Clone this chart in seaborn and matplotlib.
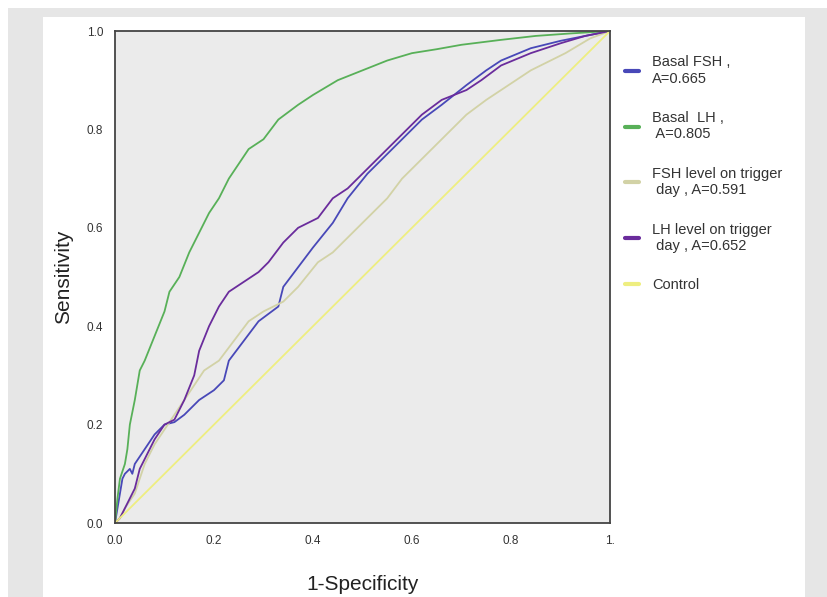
import numpy as np
import pandas as pd
import matplotlib
matplotlib.use("Agg")
import matplotlib.pyplot as plt
from matplotlib.patches import Rectangle
import seaborn as sns

# ---- data ----
series_names = ["Basal FSH ,\nA=0.665", "Basal  LH ,\n A=0.805",
                "FSH level on trigger\n day , A=0.591", "LH level on trigger\n day , A=0.652", "Control"]

fsh_x = [0, 0.005, 0.01, 0.015, 0.02, 0.03, 0.035, 0.04, 0.06, 0.08, 0.10, 0.12, 0.14, 0.17, 0.20, 0.22,
         0.23, 0.26, 0.29, 0.33, 0.34, 0.37, 0.40, 0.44, 0.47, 0.51, 0.55, 0.58, 0.62, 0.66, 0.71, 0.75,
         0.78, 0.84, 0.90, 0.95, 1.0]
fsh_y = [0, 0.03, 0.06, 0.09, 0.10, 0.11, 0.10, 0.12, 0.15, 0.18, 0.20, 0.205, 0.22, 0.25, 0.27, 0.29,
         0.33, 0.37, 0.41, 0.44, 0.48, 0.52, 0.56, 0.61, 0.66, 0.71, 0.75, 0.78, 0.82, 0.85, 0.89, 0.92,
         0.94, 0.965, 0.98, 0.99, 1.0]

lh_x = [0, 0.005, 0.01, 0.02, 0.025, 0.03, 0.04, 0.05, 0.06, 0.08, 0.10, 0.11, 0.13, 0.15, 0.17, 0.19,
        0.21, 0.23, 0.25, 0.27, 0.30, 0.33, 0.37, 0.40, 0.45, 0.50, 0.55, 0.60, 0.65, 0.70, 0.78, 0.85,
        0.92, 1.0]
lh_y = [0, 0.05, 0.09, 0.12, 0.15, 0.20, 0.25, 0.31, 0.33, 0.38, 0.43, 0.47, 0.50, 0.55, 0.59, 0.63,
        0.66, 0.70, 0.73, 0.76, 0.78, 0.82, 0.85, 0.87, 0.90, 0.92, 0.94, 0.955, 0.963, 0.972, 0.982, 0.99,
        0.995, 1.0]

fsht_x = [0, 0.01, 0.02, 0.04, 0.06, 0.08, 0.10, 0.12, 0.14, 0.16, 0.18, 0.21, 0.24, 0.27, 0.30, 0.34,
          0.37, 0.41, 0.44, 0.48, 0.51, 0.55, 0.58, 0.62, 0.66, 0.71, 0.75, 0.78, 0.84, 0.88, 0.91, 0.96, 1.0]
fsht_y = [0, 0.01, 0.03, 0.06, 0.12, 0.16, 0.19, 0.22, 0.25, 0.28, 0.31, 0.33, 0.37, 0.41, 0.43, 0.45,
          0.48, 0.53, 0.55, 0.59, 0.62, 0.66, 0.70, 0.74, 0.78, 0.83, 0.86, 0.88, 0.92, 0.94, 0.955, 0.985, 1.0]

lht_x = [0, 0.01, 0.02, 0.03, 0.04, 0.05, 0.06, 0.08, 0.10, 0.12, 0.14, 0.16, 0.17, 0.19, 0.21, 0.23,
         0.26, 0.29, 0.31, 0.34, 0.37, 0.41, 0.44, 0.47, 0.51, 0.55, 0.58, 0.62, 0.66, 0.71, 0.74, 0.78,
         0.84, 0.90, 0.95, 1.0]
lht_y = [0, 0.01, 0.03, 0.05, 0.07, 0.11, 0.13, 0.17, 0.20, 0.21, 0.25, 0.30, 0.35, 0.40, 0.44, 0.47,
         0.49, 0.51, 0.53, 0.57, 0.60, 0.62, 0.66, 0.68, 0.72, 0.76, 0.79, 0.83, 0.86, 0.88, 0.90, 0.93,
         0.955, 0.975, 0.99, 1.0]

ctrl_x = [0, 1.0]
ctrl_y = [0, 1.0]

x_ticks = [0.0, 0.2, 0.4, 0.6, 0.8, 1.0]
x_tick_labels = ["0.0", "0.2", "0.4", "0.6", "0.8", "1."]
y_ticks = [0.0, 0.2, 0.4, 0.6, 0.8, 1.0]
y_tick_labels = ["0.0", "0.2", "0.4", "0.6", "0.8", "1.0"]

colors = ["#4848b8", "#58b058", "#d2d2a6", "#6a2c9c", "#eeee80"]

frames = []
for name, xs, ys in zip(series_names,
                        [fsh_x, lh_x, fsht_x, lht_x, ctrl_x],
                        [fsh_y, lh_y, fsht_y, lht_y, ctrl_y]):
    frames.append(pd.DataFrame({"x": xs, "y": ys, "series": name, "order": range(len(xs))}))
df = pd.concat(frames, ignore_index=True)

sns.set_style("white")
plt.rcParams["font.family"] = ["Liberation Sans", "DejaVu Sans"]

fig = plt.figure(figsize=(8.27, 5.97), dpi=100, facecolor="white")
W, H = 827, 597
fig.patches.append(Rectangle((8 / W, 0), 1 - 8 / W, (H - 8) / H, transform=fig.transFigure,
                             facecolor="#e6e6e6", edgecolor="none", zorder=-10))
fig.patches.append(Rectangle((43 / W, 0), (805 - 43) / W, (H - 17) / H, transform=fig.transFigure,
                             facecolor="white", edgecolor="none", zorder=-9))

ax = fig.add_axes([115 / W, (H - 523) / H, (610 - 115) / W, (523 - 31) / H])
ax.set_facecolor("#ebebeb")

sns.lineplot(data=df, x="x", y="y", hue="series", palette=colors, hue_order=series_names,
             sort=False, estimator=None, units="series", linewidth=1.3, ax=ax)

ax.set_xlim(0, 1)
ax.set_ylim(0, 1)
ax.set_xticks(x_ticks)
ax.set_xticklabels(x_tick_labels)
ax.set_yticks(y_ticks)
ax.set_yticklabels(y_tick_labels)
ax.tick_params(axis="both", direction="out", length=5, width=1, colors="#333333",
               labelsize=8.5, labelcolor="#333333")
for s in ax.spines.values():
    s.set_color("#444444")
    s.set_linewidth(1.3)

ax.set_xlabel("1-Specificity", fontsize=15, color="#222222", labelpad=20)
ax.set_ylabel("Sensitivity", fontsize=15, color="#222222", labelpad=10)

leg = ax.legend(loc="upper left", bbox_to_anchor=(1.0, 0.98), frameon=False,
                fontsize=10.5, handlelength=1.0, handletextpad=0.9, labelspacing=1.75,
                borderaxespad=0.6)
for t in leg.get_texts():
    t.set_color("#333333")
for l in leg.get_lines():
    l.set_linewidth(3)

fig.savefig("out.png", dpi=100, facecolor="white")
